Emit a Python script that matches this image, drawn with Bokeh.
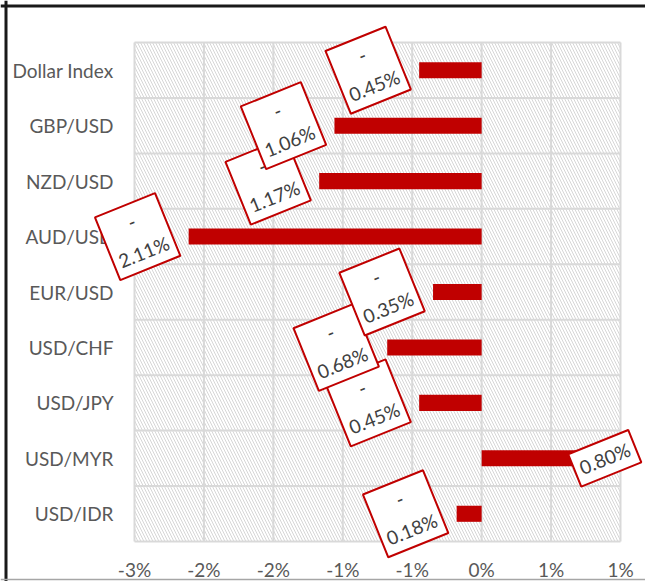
from bokeh.plotting import figure
from bokeh.models import ColumnDataSource, Range1d, BoxAnnotation, Span
from bokeh.core.properties import value
from bokeh.embed import file_html
from bokeh.resources import INLINE

# ---- data ----
categories = ["Dollar Index", "GBP/USD", "NZD/USD", "AUD/USD", "EUR/USD",
              "USD/CHF", "USD/JPY", "USD/MYR", "USD/IDR"]
changes = [-0.45, -1.06, -1.17, -2.11, -0.35, -0.68, -0.45, 0.80, -0.18]
x_ticks = [-2.5, -2.0, -1.5, -1.0, -0.5, 0.0, 0.5, 1.0]
x_tick_labels = ["-3%", "-2%", "-2%", "-1%", "-1%", "0%", "1%", "1%"]

# ---- layout (pixels) ----
W, H = 645, 581
PL, PR, PT, PB = 134, 620, 42, 541          # plot-area edges on the canvas
n = len(categories)
ppx = (PR - PL) / (x_ticks[-1] - x_ticks[0])
ppy = (PB - PT) / n
x0 = x_ticks[0] - PL / ppx
x1 = x_ticks[-1] + (W - PR) / ppx
y0 = -(H - PB) / ppy
y1 = n + PT / ppy

FONT = "Lato"
GRAY = "#595959"
GRID = "#d9d9d9"
RED = "#c00000"

ys = [n - i - 0.5 for i in range(n)]       # category centres, top to bottom
labels = [("-\n" + f"{abs(v):.2f}%") if v < 0 else f"{v:.2f}%" for v in changes]

p = figure(width=W, height=H, x_range=Range1d(x0, x1), y_range=Range1d(y0, y1),
           x_axis_location=None, y_axis_location=None,
           output_backend="svg", toolbar_location=None, min_border=0)
p.outline_line_color = None
p.xgrid.visible = False
p.ygrid.visible = False

# page frame lines (screen y measured from the bottom)
p.add_layout(Span(location=H - 5.5, dimension="width", location_units="screen",
                  line_color="#1a1a1a", line_width=3))
p.add_layout(Span(location=5.5, dimension="height", location_units="screen",
                  line_color="#1a1a1a", line_width=3))
p.add_layout(Span(location=2, dimension="width", location_units="screen",
                  line_color="#a6a6a6", line_width=1.5))

# hatched plot area
p.add_layout(BoxAnnotation(left=x_ticks[0], right=x_ticks[-1], bottom=0, top=n,
                           fill_alpha=0, line_color=None, hatch_pattern="\\",
                           hatch_color="#d6d6d6", hatch_scale=6, hatch_weight=1,
                           level="image"))

# grid lines
p.segment(x0=x_ticks, x1=x_ticks, y0=[0] * len(x_ticks), y1=[n] * len(x_ticks),
          line_color=GRID, line_width=2)
bounds = list(range(n + 1))
p.segment(x0=[x_ticks[0]] * len(bounds), x1=[x_ticks[-1]] * len(bounds),
          y0=bounds, y1=bounds, line_color=GRID, line_width=2)

# bars
p.hbar(y=ys, left=0, right=changes, height=0.29, fill_color=RED, line_color=None)

# category labels (left axis)
p.text(x=[x_ticks[0]] * n, y=ys, text=categories, x_offset=-21,
       text_align="right", text_baseline="middle",
       text_font=value(FONT), text_font_size="19px", text_color=GRAY)

# value-axis tick labels
p.text(x=x_ticks, y=[0] * len(x_ticks), text=x_tick_labels, y_offset=28,
       text_align="center", text_baseline="middle",
       text_font=value(FONT), text_font_size="19px", text_color=GRAY)

# data labels (upper rows drawn last so they sit on top)
order = list(range(n))[::-1]
lab_src = ColumnDataSource(dict(
    x=[changes[i] for i in order], y=[ys[i] for i in order],
    lab=[labels[i] for i in order],
    xo=[(-51 if changes[i] < 0 else 12) for i in order]))
p.text(x="x", y="y", text="lab", source=lab_src, x_offset="xo",
       angle=22, angle_units="deg",
       text_align="center", text_baseline="middle",
       text_font=value(FONT), text_font_size="19px", text_color="#404040",
       text_line_height=1.42,
       background_fill_color="white", border_line_color=RED,
       border_line_width=2, padding=6)

open("out.html", "w").write(file_html(p, INLINE))
